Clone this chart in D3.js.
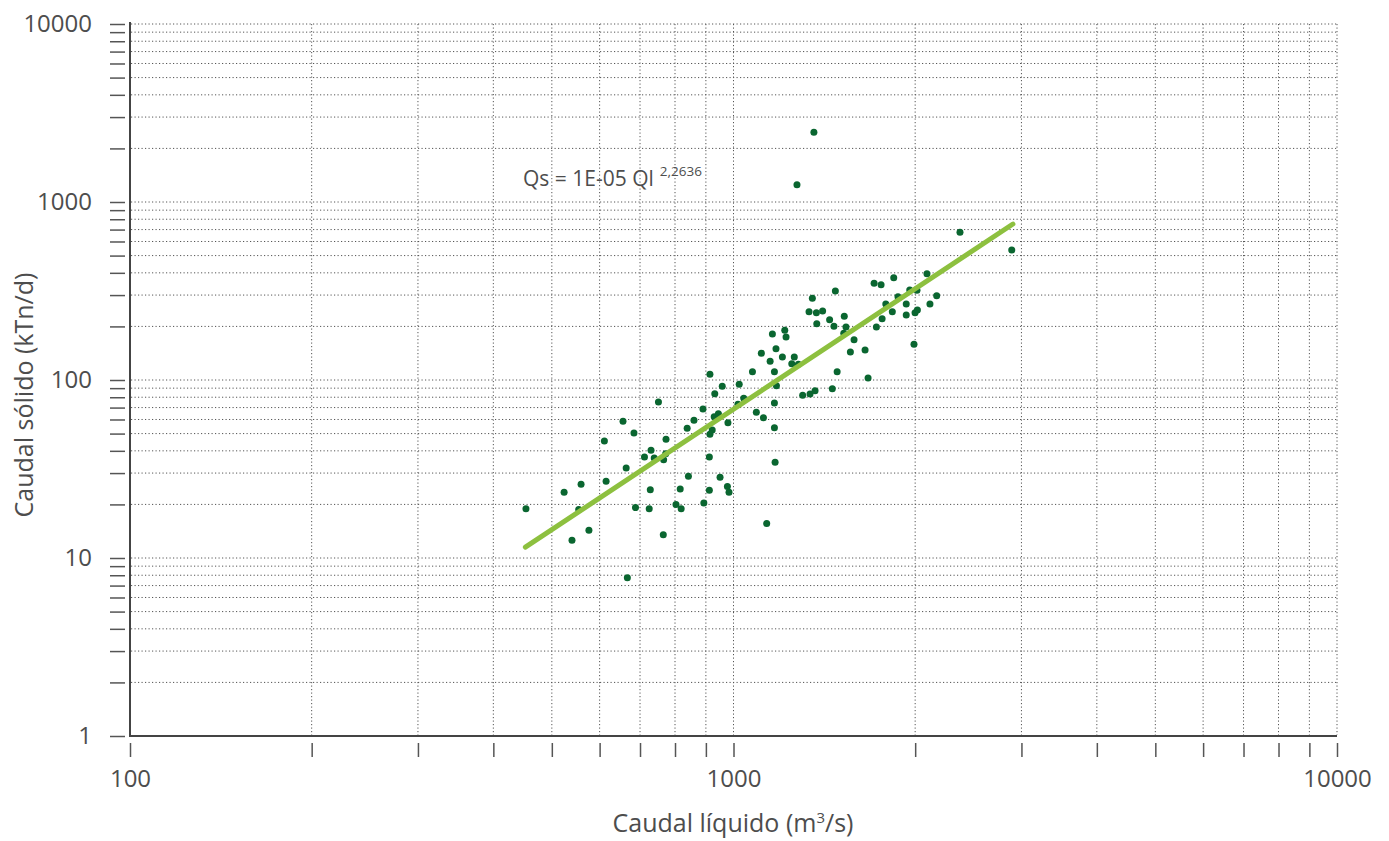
<!DOCTYPE html>
<html>
<head>
<meta charset="utf-8">
<style>
  body { margin: 0; background: #fff; }
  text { font-family: "Open Sans", sans-serif; fill: #4d4d4d; }
  .grid line { stroke: #555; stroke-width: 1; stroke-dasharray: 1.2 2.3; }
  .tick line { stroke: #555; stroke-width: 1.5; }
</style>
<script src="https://d3js.org/d3.v7.min.js"></script>
</head>
<body>
<svg id="svg" width="1389" height="841"></svg>
<script>
// caudal liquido (m3/s) and caudal solido (kTn/d)
const liquido = [453, 524, 559, 554, 540, 576, 611, 615, 656, 664, 667, 684, 688, 712, 730, 739, 728, 725,
  751, 773, 766, 772, 765, 838, 860, 890, 842, 816, 803, 819, 912, 912, 893, 931, 958, 929, 944, 922, 914,
  979, 950, 977, 983, 1022, 1017, 1040, 1091, 1121, 1169, 1169, 1172, 1135, 1178, 914, 1075, 1112, 1160,
  1176, 1150, 1169, 1216, 1222, 1205, 1261, 1249, 1281, 1302, 1339, 1365, 1351, 1334, 1372, 1405, 1374,
  1443, 1467, 1475, 1526, 1536, 1523, 1584, 1562, 1652, 1485, 1458, 1671, 1710, 1756, 1843, 1788, 1725,
  1763, 1833, 1873, 1933, 1933, 1959, 2014, 1999, 2017, 1991, 2092, 2116, 2171, 1274, 2373, 2891, 1359];
const solido = [18.9, 23.4, 26.0, 18.7, 12.6, 14.3, 45.4, 27.0, 58.6, 32.0, 7.75, 50.4, 19.2, 36.9, 40.3,
  36.5, 24.2, 18.9, 75.2, 46.4, 35.7, 38.5, 13.5, 53.5, 59.4, 68.7, 28.8, 24.4, 20.0, 18.9, 36.9, 24.0,
  20.4, 83.8, 92.2, 62.2, 64.7, 52.4, 49.5, 57.6, 28.4, 25.2, 23.4, 94.6, 73.0, 78.9, 65.8, 61.4, 74.3,
  54.0, 34.5, 15.6, 92.9, 107.6, 111.3, 141.3, 181.3, 149.9, 127.4, 111.3, 190.2, 174.5, 134.7, 134.7,
  123.5, 122.5, 82.0, 83.4, 87.1, 287.7, 242.0, 238.8, 244.1, 207.2, 218.2, 200.3, 316.2, 228.0, 198.5,
  183.0, 168.4, 143.6, 147.4, 111.3, 89.4, 102.6, 349.4, 343.1, 375.5, 267.3, 198.5, 221.0, 242.0, 293.8,
  267.3, 231.8, 320.3, 319.0, 238.8, 247.3, 158.7, 395.5, 267.3, 297.6, 1251, 675.6, 537.5, 2464];

// trend line end points
const trendLiquido = [452, 2904];
const trendSolido = [11.5, 752];

const xLabels = [100, 1000, 10000];
const yLabels = [1, 10, 100, 1000, 10000];
const equation = "Qs = 1E-05 Ql";
const exponent = "2,2636";

const svg = d3.select("#svg");
const x = d3.scaleLog().domain([100, 10000]).range([130, 1337]);
const y = d3.scaleLog().domain([1, 10000]).range([736, 24]);

const xTicks = x.ticks();
const yTicks = y.ticks();

// dotted grid
const grid = svg.append("g").attr("class", "grid");
grid.selectAll(".gy").data(yTicks.filter(d => d > 1)).enter().append("line")
  .attr("x1", 131).attr("x2", 1337)
  .attr("y1", d => y(d)).attr("y2", d => y(d));
grid.selectAll(".gx").data(xTicks.filter(d => d > 100)).enter().append("line")
  .attr("x1", d => x(d)).attr("x2", d => x(d))
  .attr("y1", 24).attr("y2", 735);

// axes with ticks set off from the axis line
const yAxis = d3.axisLeft(y).tickValues(yTicks).tickSize(15).tickPadding(18)
  .tickFormat(d => yLabels.includes(d) ? d : "");
svg.append("g").attr("transform", "translate(125,0)").call(yAxis)
  .call(g => g.select(".domain").remove())
  .call(g => g.selectAll("text").style("font-size", "24px").attr("fill", "#4d4d4d"));

const xAxis = d3.axisBottom(x).tickValues(xTicks).tickSize(14).tickPadding(13)
  .tickFormat(d => xLabels.includes(d) ? d : "");
svg.append("g").attr("transform", "translate(0,743)").call(xAxis)
  .call(g => g.select(".domain").remove())
  .call(g => g.selectAll("text").style("font-size", "24px").attr("fill", "#4d4d4d"));

// axis lines
svg.append("line").attr("x1", 130).attr("x2", 130).attr("y1", 22).attr("y2", 737)
  .attr("stroke", "#444").attr("stroke-width", 2);
svg.append("line").attr("x1", 129).attr("x2", 1337).attr("y1", 736).attr("y2", 736)
  .attr("stroke", "#444").attr("stroke-width", 2);

// points
svg.append("g").selectAll("circle").data(liquido).enter().append("circle")
  .attr("cx", d => x(d))
  .attr("cy", (d, i) => y(solido[i]))
  .attr("r", 3.5)
  .attr("fill", "#0a6630");

// trend line
svg.append("line")
  .attr("x1", x(trendLiquido[0])).attr("y1", y(trendSolido[0]))
  .attr("x2", x(trendLiquido[1])).attr("y2", y(trendSolido[1]))
  .attr("stroke", "#8dc03f").attr("stroke-width", 5).attr("stroke-linecap", "round");

// equation
const eq = svg.append("text").attr("x", 523).attr("y", 186).style("font-size", "21px");
eq.append("tspan").text(equation);
eq.append("tspan").attr("dx", 6).attr("dy", -10).style("font-size", "13.5px").text(exponent);

// axis titles
const xt = svg.append("text").attr("x", 733).attr("y", 832).attr("text-anchor", "middle")
  .style("font-size", "25px");
xt.append("tspan").text("Caudal líquido (m");
xt.append("tspan").attr("dy", -9).style("font-size", "15px").text("3");
xt.append("tspan").attr("dy", 9).text("/s)");

svg.append("text").attr("transform", "translate(33,395) rotate(-90)")
  .attr("text-anchor", "middle").style("font-size", "25px")
  .text("Caudal sólido (kTn/d)");
</script>
</body>
</html>
